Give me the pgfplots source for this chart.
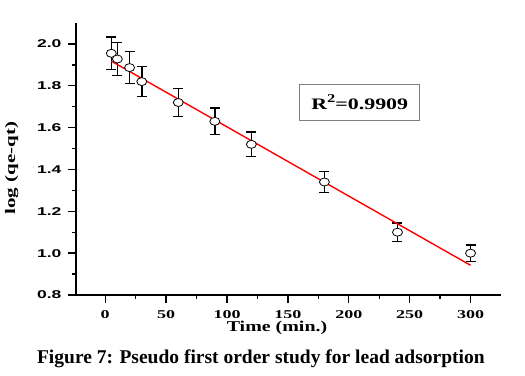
\documentclass[border=0pt]{standalone}
\usepackage{fontspec}
\setmainfont{Liberation Serif}
\setsansfont{Liberation Sans}
\usepackage{graphicx}
\usepackage{pgfplots}
\pgfplotsset{compat=1.18}
\begin{document}
\begin{tikzpicture}
\begin{axis}[
  scale only axis,
  width=425pt, height=272pt,
  xmin=-24, xmax=325, ymin=0.8, ymax=2.1,
  axis lines*=left,
  axis line style={line width=1.8pt},
  xtick={0,50,...,300},
  ytick={0.8,1.0,...,2.0},
  minor x tick num=1,
  minor y tick num=1,
  tick align=outside,
  major tick length=8pt,
  minor tick length=4pt,
  every tick/.style={black, line width=1.4pt},
  /pgf/number format/assume math mode=true,
  xticklabel={\scalebox{1.5}[1]{\bfseries\fontsize{12}{13}\selectfont\pgfmathprintnumber{\tick}}},
  yticklabel={\scalebox{1.55}[1]{\sffamily\bfseries\fontsize{11.3}{12}\selectfont\pgfmathprintnumber[fixed,fixed zerofill,precision=1]{\tick}}},
  xticklabel style={yshift=-3.5pt},
  yticklabel style={xshift=-3pt},
  xlabel={\scalebox{1.33}[1]{\bfseries\fontsize{15}{16}\selectfont Time (min.)}},
  ylabel={\scalebox{1.45}[1]{\bfseries\fontsize{14.5}{15}\selectfont log (qe-qt)}},
  xlabel style={at={(axis description cs:0.473,-0.135)}, anchor=base},
  ylabel style={at={(axis description cs:-0.1513,0.467)}, anchor=center, rotate=0},
  clip=false,
]
\addplot[draw=none, mark=none, forget plot,
  error bars/.cd, y dir=both, y explicit,
  error bar style={draw=black, solid, line width=1.5pt},
  error mark options={rotate=90, mark size=5pt, draw=black, line width=1.5pt}]
coordinates {
(5,1.955) +- (0,0.078)
(10,1.928) +- (0,0.078)
(20,1.887) +- (0,0.077)
(30,1.82) +- (0,0.072)
(60,1.72) +- (0,0.068)
(90,1.63) +- (0,0.064)
(120,1.52) +- (0,0.059)
(180,1.34) +- (0,0.05)
(240,1.10) +- (0,0.044)
(300,1.00) +- (0,0.04)
};
\addplot[only marks, mark=*, mark size=4pt,
  mark options={xscale=1.25, fill=white, draw=black, line width=0.8pt}]
coordinates {
(5,1.955) (10,1.928) (20,1.887) (30,1.82) (60,1.72)
(90,1.63) (120,1.52) (180,1.34) (240,1.10) (300,1.00)
};
\addplot[red, line width=1.4pt, mark=none] coordinates {(5,1.918) (300,0.942)};
\node[draw=gray, fill=white, line width=0.8pt, minimum width=120pt, minimum height=36pt, inner sep=0pt]
  at (axis cs:209,1.7225)
  {\scalebox{1.37}[1]{\bfseries\fontsize{16}{17}\selectfont R\raisebox{6.8pt}{\fontsize{12}{12}\selectfont 2}=0.9909}};
\node[anchor=base, font=\bfseries\fontsize{19.5}{21}\selectfont]
  at (axis description cs:0.435,-0.251) {Figure 7: Pseudo first order study for lead adsorption};
\coordinate (O) at (rel axis cs:0,0);
\end{axis}
\pgfresetboundingbox
\path ([shift={(-76pt,-80pt)}]O) rectangle ([shift={(449pt,295pt)}]O);
\end{tikzpicture}
\end{document}
